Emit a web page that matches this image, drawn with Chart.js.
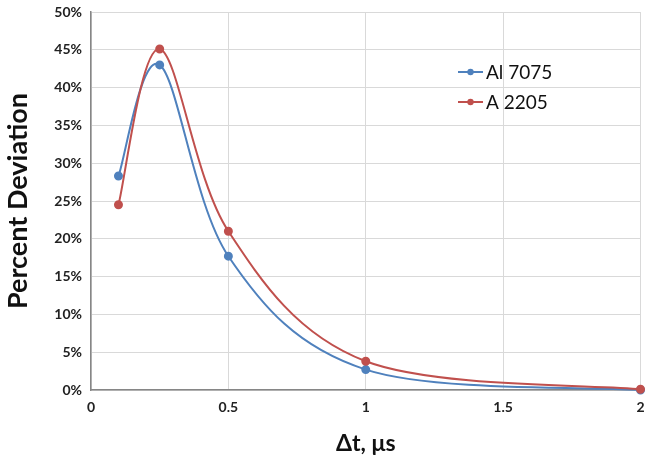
<!DOCTYPE html>
<html>
<head>
<meta charset="utf-8">
<script src="https://cdn.jsdelivr.net/npm/chart.js@4/dist/chart.umd.min.js"></script>
<style>
  html, body { margin: 0; padding: 0; background: #fff; }
  #wrap { width: 646px; height: 461px; }
</style>
</head>
<body>
<div id="wrap"><canvas id="chart" width="646" height="461"></canvas></div>
<script>
// --- DATA ---
const dtValues = [0.1, 0.25, 0.5, 1, 2];          // Δt, µs
const al7075 = [0.283, 0.430, 0.177, 0.027, 0.0];
const a2205 = [0.245, 0.451, 0.210, 0.038, 0.001];
const seriesNames = ['Al 7075', 'A 2205'];
const xTickLabels = ['0', '0.5', '1', '1.5', '2'];
const yTickLabels = ['0%', '5%', '10%', '15%', '20%', '25%', '30%', '35%', '40%', '45%', '50%'];

const FONT = 'Lato, "Liberation Sans", sans-serif';
const BLUE = '#4f81bd';
const RED = '#c0504d';

function toPoints(ys) {
    return dtValues.map((x, i) => ({ x: x, y: ys[i] }));
}

// Excel style smoothing: control points at +/- (next - prev) / 6
const excelSmooth = {
    id: 'excelSmooth',
    beforeDatasetDraw(chart, args) {
        const pts = args.meta.data;
        const k = 1 / 6;
        pts.forEach((p, i) => {
            const prev = pts[i - 1] || p;
            const next = pts[i + 1] || p;
            const dx = (next.x - prev.x) * k;
            const dy = (next.y - prev.y) * k;
            p.cp1x = p.x - dx; p.cp1y = p.y - dy;
            p.cp2x = p.x + dx; p.cp2y = p.y + dy;
        });
        if (args.meta.dataset) args.meta.dataset._pointsUpdated = true;
    }
};

// legend drawn inside the plot, like the Excel original
const insideLegend = {
    id: 'insideLegend',
    afterDraw(chart) {
        const ctx = chart.ctx;
        const area = chart.chartArea;
        const x0 = area.left + 367;
        let y = area.top + 60;
        ctx.save();
        ctx.font = '19px ' + FONT;
        ctx.textBaseline = 'middle';
        chart.data.datasets.forEach(ds => {
            ctx.strokeStyle = ds.borderColor;
            ctx.lineWidth = 2;
            ctx.beginPath();
            ctx.moveTo(x0, y);
            ctx.lineTo(x0 + 25, y);
            ctx.stroke();
            ctx.fillStyle = ds.borderColor;
            ctx.beginPath();
            ctx.arc(x0 + 12.5, y, 3.2, 0, Math.PI * 2);
            ctx.fill();
            ctx.fillStyle = '#111';
            ctx.fillText(ds.label, x0 + 28, y + 1);
            y += 30;
        });
        ctx.restore();
    }
};

new Chart(document.getElementById('chart'), {
    type: 'line',
    data: {
        datasets: [
            {
                label: seriesNames[0],
                data: toPoints(al7075),
                borderColor: BLUE,
                backgroundColor: BLUE,
                borderWidth: 2,
                pointRadius: 3.5,
                pointHoverRadius: 3.5,
                tension: 0.4,
                clip: false,
                order: 1
            },
            {
                label: seriesNames[1],
                data: toPoints(a2205),
                borderColor: RED,
                backgroundColor: RED,
                borderWidth: 2,
                pointRadius: 3.5,
                pointHoverRadius: 3.5,
                tension: 0.4,
                clip: false,
                order: 0
            }
        ]
    },
    options: {
        responsive: false,
        animation: false,
        layout: { padding: { top: 12, right: 5, left: 0, bottom: 0 } },
        plugins: {
            legend: { display: false },
            tooltip: { enabled: false }
        },
        scales: {
            x: {
                type: 'linear',
                min: 0,
                max: 2,
                afterFit: s => { s.height = 71; s.paddingLeft = 0; s.paddingRight = 0; },
                grid: { color: '#d9d9d9', drawTicks: false },
                border: { color: '#868686', width: 1.5 },
                ticks: {
                    stepSize: 0.5,
                    padding: 9,
                    color: '#222',
                    font: { family: FONT, size: 14, weight: 'bold' },
                    callback: (v) => xTickLabels[Math.round(v / 0.5)]
                },
                title: {
                    display: true,
                    text: 'Δt, μs',
                    color: '#111',
                    padding: { top: 14 },
                    font: { family: FONT, size: 23, weight: 'bold' }
                }
            },
            y: {
                min: 0,
                max: 0.5,
                afterFit: s => { s.width = 91; s.paddingTop = 0; s.paddingBottom = 0; },
                grid: { color: '#d9d9d9', drawTicks: false },
                border: { color: '#868686', width: 1.5 },
                ticks: {
                    stepSize: 0.05,
                    padding: 9,
                    color: '#222',
                    font: { family: FONT, size: 14, weight: 'bold' },
                    callback: (v) => yTickLabels[Math.round(v / 0.05)]
                },
                title: {
                    display: true,
                    text: 'Percent Deviation',
                    color: '#111',
                    padding: { top: 2, bottom: 0 },
                    font: { family: FONT, size: 27, weight: 'bold' }
                }
            }
        }
    },
    plugins: [excelSmooth, insideLegend]
});
</script>
</body>
</html>
